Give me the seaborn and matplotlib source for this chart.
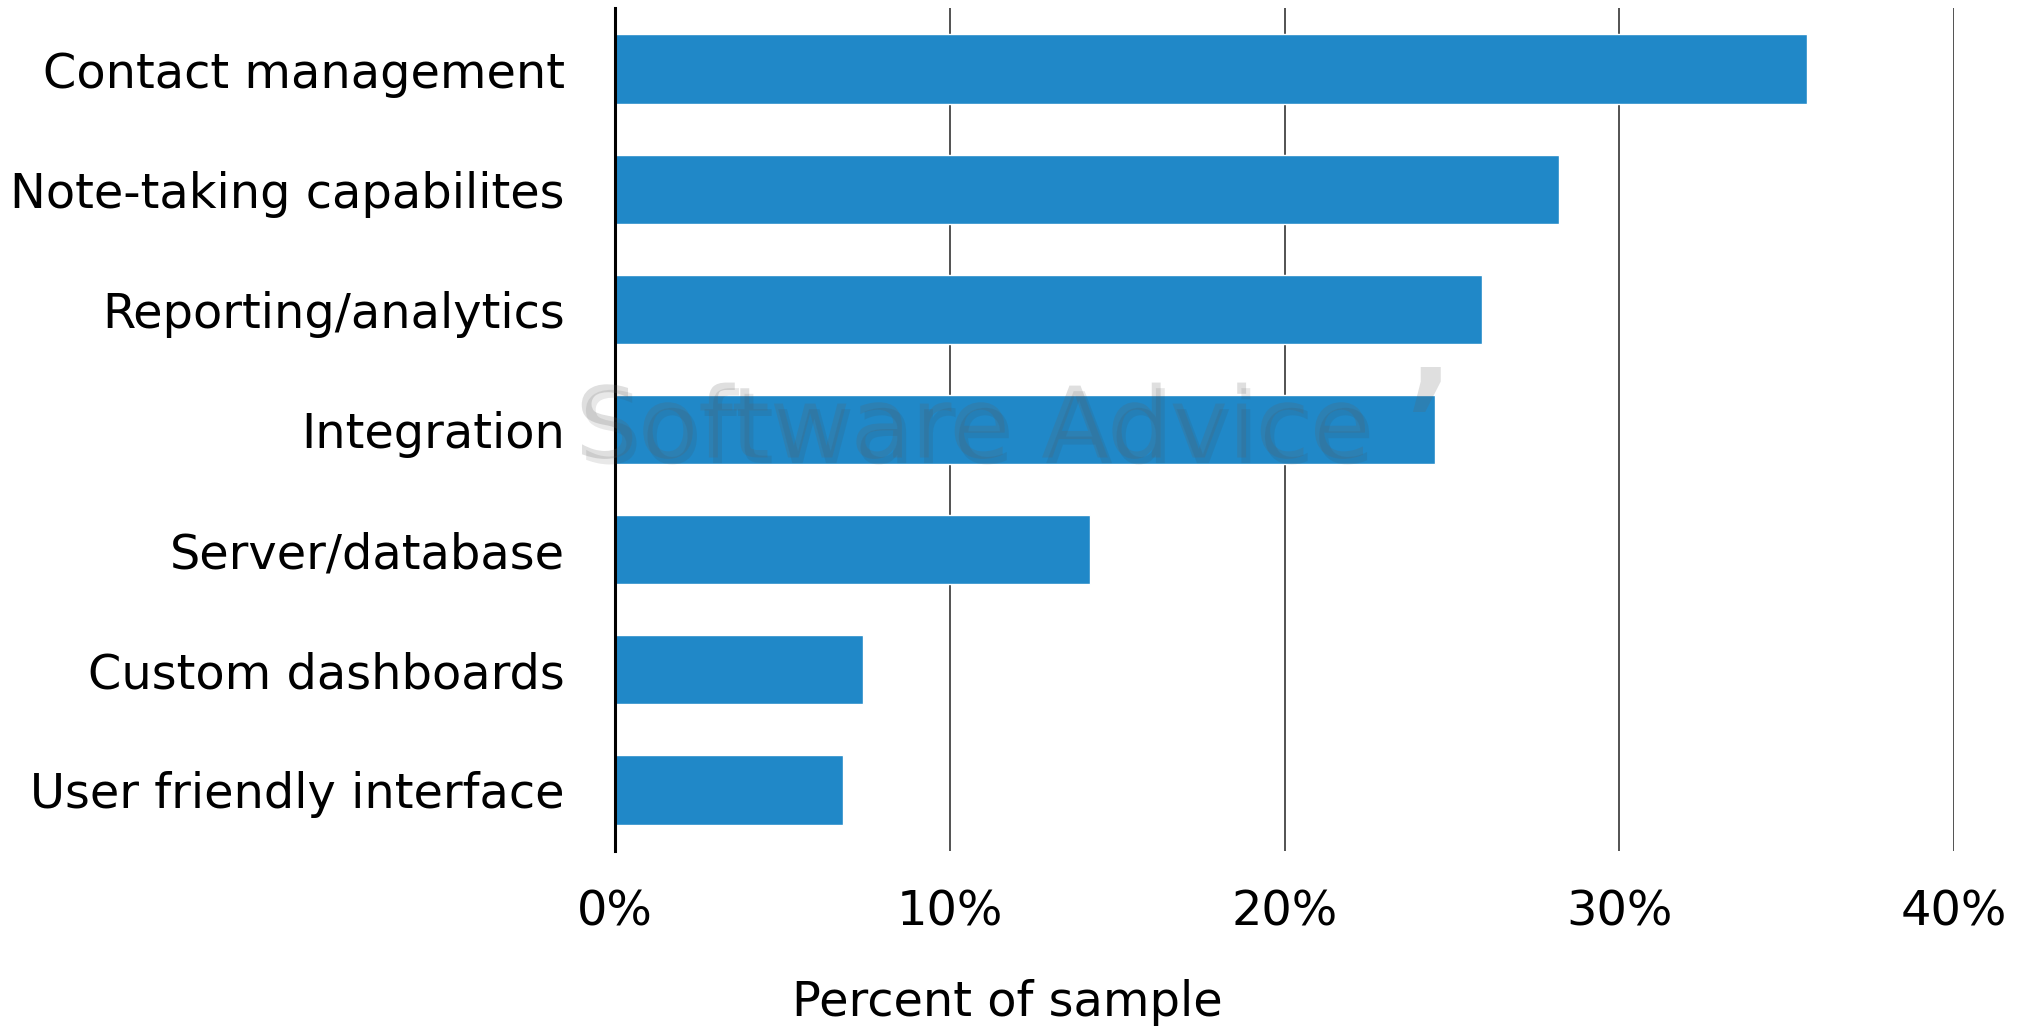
import matplotlib
matplotlib.use("Agg")
import matplotlib.pyplot as plt
import matplotlib.patheffects as pe
import seaborn as sns
import pandas as pd
from matplotlib.ticker import FuncFormatter

categories = ["Contact management", "Note-taking capabilites", "Reporting/analytics",
              "Integration", "Server/database", "Custom dashboards", "User friendly interface"]
values = [35.6, 28.2, 25.9, 24.5, 14.2, 7.4, 6.8]
x_ticks = [0, 10, 20, 30, 40]

df = pd.DataFrame({"feature": categories, "pct": values})

sns.set_theme(style="white")
plt.rcParams['font.family'] = ['DejaVu Sans']

W, H, DPI = 2032, 1030, 100
fig = plt.figure(figsize=(W / DPI, H / DPI), dpi=DPI)
ax = fig.add_axes([615 / W, 1 - 851 / H, (1954 - 615) / W, (851 - 8) / H])

sns.barplot(data=df, x="pct", y="feature", color="#2088c8", saturation=1,
            width=0.58, ax=ax, zorder=3)

ax.set_xlim(0, 40)
ax.set_ylim(6.51, -0.51)
ax.set_xticks(x_ticks)
ax.xaxis.set_major_formatter(FuncFormatter(lambda v, p: f"{v:.0f}%"))
ax.grid(axis="x", color="#444444", linewidth=1.3, zorder=0)
ax.set_axisbelow(True)
for s in ["top", "right", "bottom"]:
    ax.spines[s].set_visible(False)
ax.spines["left"].set_color("black")
ax.spines["left"].set_linewidth(2.2)
ax.spines["left"].set_zorder(4)
ax.tick_params(axis="both", length=0, labelsize=34.5, colors="black")
ax.tick_params(axis="x", pad=27)
ax.tick_params(axis="y", pad=36)
ax.set_xlabel("")
ax.set_ylabel("")

fig.text(1007 / W, 1 - 1003 / H, "Percent of sample", ha="center", va="center",
         fontsize=34.5, color="black")

# watermark
fig.text(973 / W, 1 - 430 / H, "Software Advice", ha="center", va="center",
         fontsize=71, color="#606060", alpha=0.2, zorder=10,
         path_effects=[pe.SimplePatchShadow(offset=(3, -4), shadow_rgbFace="#444444", alpha=0.12),
                       pe.Normal()])
fig.text(1426 / W, 1 - 455 / H, "\u2019", ha="center", va="center",
         fontsize=140, color="#606060", alpha=0.2, zorder=10)

fig.savefig("out.png", dpi=DPI)
